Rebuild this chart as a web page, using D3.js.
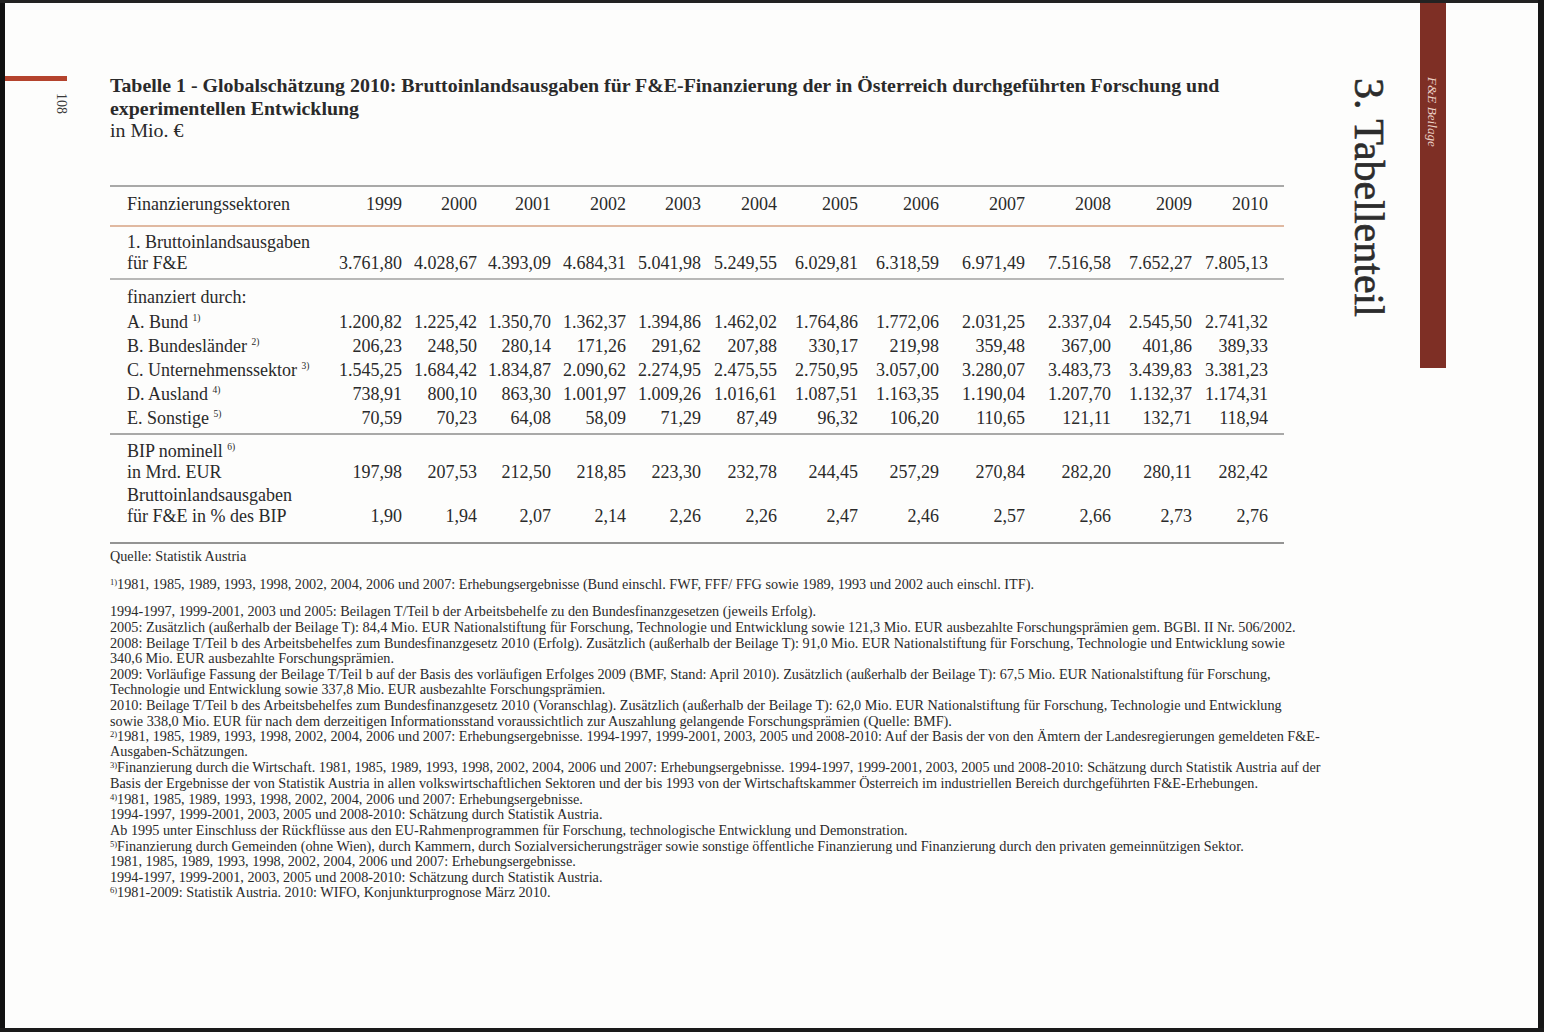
<!DOCTYPE html>
<html><head><meta charset="utf-8">
<script src="https://cdn.jsdelivr.net/npm/d3@7"></script>
<style>html,body{margin:0;padding:0;background:#fff;} svg{display:block}</style>
</head><body>
<svg id="c" width="1544" height="1032"></svg>
<script>
// ---------- DATA ----------
const years = [1999, 2000, 2001, 2002, 2003, 2004, 2005, 2006, 2007, 2008, 2009, 2010];
const gerd        = [3761.80, 4028.67, 4393.09, 4684.31, 5041.98, 5249.55, 6029.81, 6318.59, 6971.49, 7516.58, 7652.27, 7805.13];
const bund        = [1200.82, 1225.42, 1350.70, 1362.37, 1394.86, 1462.02, 1764.86, 1772.06, 2031.25, 2337.04, 2545.50, 2741.32];
const laender     = [206.23, 248.50, 280.14, 171.26, 291.62, 207.88, 330.17, 219.98, 359.48, 367.00, 401.86, 389.33];
const unternehmen = [1545.25, 1684.42, 1834.87, 2090.62, 2274.95, 2475.55, 2750.95, 3057.00, 3280.07, 3483.73, 3439.83, 3381.23];
const ausland     = [738.91, 800.10, 863.30, 1001.97, 1009.26, 1016.61, 1087.51, 1163.35, 1190.04, 1207.70, 1132.37, 1174.31];
const sonstige    = [70.59, 70.23, 64.08, 58.09, 71.29, 87.49, 96.32, 106.20, 110.65, 121.11, 132.71, 118.94];
const bip         = [197.98, 207.53, 212.50, 218.85, 223.30, 232.78, 244.45, 257.29, 270.84, 282.20, 280.11, 282.42];
const quote       = [1.90, 1.94, 2.07, 2.14, 2.26, 2.26, 2.47, 2.46, 2.57, 2.66, 2.73, 2.76];

const titleLines = [
  "Tabelle 1 - Globalschätzung 2010: Bruttoinlandsausgaben für F&E-Finanzierung der in Österreich durchgeführten Forschung und",
  "experimentellen Entwicklung"
];
const unitLabel = "in Mio. €";
const headerLabel = "Finanzierungssektoren";
const source = "Quelle: Statistik Austria";

const footnotes = [
  {sup: "1)", text: "1981, 1985, 1989, 1993, 1998, 2002, 2004, 2006 und 2007: Erhebungsergebnisse (Bund einschl. FWF, FFF/ FFG sowie 1989, 1993 und 2002 auch einschl. ITF)."},
  {sup: "", text: "1994-1997, 1999-2001, 2003 und 2005: Beilagen T/Teil b der Arbeitsbehelfe zu den Bundesfinanzgesetzen (jeweils Erfolg)."},
  {sup: "", text: "2005: Zusätzlich (außerhalb der Beilage T): 84,4 Mio. EUR Nationalstiftung für Forschung, Technologie und Entwicklung sowie 121,3 Mio. EUR ausbezahlte Forschungsprämien gem. BGBl. II Nr. 506/2002."},
  {sup: "", text: "2008: Beilage T/Teil b des Arbeitsbehelfes zum Bundesfinanzgesetz 2010 (Erfolg). Zusätzlich (außerhalb der Beilage T): 91,0 Mio. EUR Nationalstiftung für Forschung, Technologie und Entwicklung sowie"},
  {sup: "", text: "340,6 Mio. EUR ausbezahlte Forschungsprämien."},
  {sup: "", text: "2009: Vorläufige Fassung der Beilage T/Teil b auf der Basis des vorläufigen Erfolges 2009 (BMF, Stand: April 2010). Zusätzlich (außerhalb der Beilage T): 67,5 Mio. EUR Nationalstiftung für Forschung,"},
  {sup: "", text: "Technologie und Entwicklung sowie 337,8 Mio. EUR ausbezahlte Forschungsprämien."},
  {sup: "", text: "2010: Beilage T/Teil b des Arbeitsbehelfes zum Bundesfinanzgesetz 2010 (Voranschlag). Zusätzlich (außerhalb der Beilage T): 62,0 Mio. EUR Nationalstiftung für Forschung, Technologie und Entwicklung"},
  {sup: "", text: "sowie 338,0 Mio. EUR für nach dem derzeitigen Informationsstand voraussichtlich zur Auszahlung gelangende Forschungsprämien (Quelle: BMF)."},
  {sup: "2)", text: "1981, 1985, 1989, 1993, 1998, 2002, 2004, 2006 und 2007: Erhebungsergebnisse. 1994-1997, 1999-2001, 2003, 2005 und 2008-2010: Auf der Basis der von den Ämtern der Landesregierungen gemeldeten F&E-"},
  {sup: "", text: "Ausgaben-Schätzungen."},
  {sup: "3)", text: "Finanzierung durch die Wirtschaft. 1981, 1985, 1989, 1993, 1998, 2002, 2004, 2006 und 2007: Erhebungsergebnisse. 1994-1997, 1999-2001, 2003, 2005 und 2008-2010: Schätzung durch Statistik Austria auf der"},
  {sup: "", text: "Basis der Ergebnisse der von Statistik Austria in allen volkswirtschaftlichen Sektoren und der bis 1993 von der Wirtschaftskammer Österreich im industriellen Bereich durchgeführten F&E-Erhebungen."},
  {sup: "4)", text: "1981, 1985, 1989, 1993, 1998, 2002, 2004, 2006 und 2007: Erhebungsergebnisse."},
  {sup: "", text: "1994-1997, 1999-2001, 2003, 2005 und 2008-2010: Schätzung durch Statistik Austria."},
  {sup: "", text: "Ab 1995 unter Einschluss der Rückflüsse aus den EU-Rahmenprogrammen für Forschung, technologische Entwicklung und Demonstration."},
  {sup: "5)", text: "Finanzierung durch Gemeinden (ohne Wien), durch Kammern, durch Sozialversicherungsträger sowie sonstige öffentliche Finanzierung und Finanzierung durch den privaten gemeinnützigen Sektor."},
  {sup: "", text: "1981, 1985, 1989, 1993, 1998, 2002, 2004, 2006 und 2007: Erhebungsergebnisse."},
  {sup: "", text: "1994-1997, 1999-2001, 2003, 2005 und 2008-2010: Schätzung durch Statistik Austria."},
  {sup: "6)", text: "1981-2009: Statistik Austria. 2010: WIFO, Konjunkturprognose März 2010."}
];

// table rows: label lines, optional superscript, values
const tableRows = [
  {label: ["1. Bruttoinlandsausgaben", "für F&E"], sup: "", values: gerd},
  {label: ["finanziert durch:"], sup: "", values: null},
  {label: ["A. Bund"], sup: "1)", values: bund},
  {label: ["B. Bundesländer"], sup: "2)", values: laender},
  {label: ["C. Unternehmenssektor"], sup: "3)", values: unternehmen},
  {label: ["D. Ausland"], sup: "4)", values: ausland},
  {label: ["E. Sonstige"], sup: "5)", values: sonstige},
  {label: ["BIP nominell", "in Mrd. EUR"], sup: "6)", values: bip},
  {label: ["Bruttoinlandsausgaben", "für F&E in % des BIP"], sup: "", values: quote}
];

// ---------- LAYOUT ----------
const W = 1544, H = 1032;
const serif = "'Liberation Serif', 'DejaVu Serif', serif";
const ink = "#2a2a2a";
const tableLeft = 110, tableRight = 1284, labelX = 127;
const colRightEdges = [402, 477, 551, 626, 701, 777, 858, 939, 1025, 1111, 1192, 1268];
const rowBaselines = [269, 303, 328, 352, 376, 400, 424, 478, 522]; // baseline of last label line
const lineGap = 21.5;
const tableFont = 18;

const x = d3.scaleOrdinal().domain(years).range(colRightEdges);
const de = d3.formatLocale({decimal: ",", thousands: ".", grouping: [3], currency: ["", " €"]});
const fmt = de.format(",.2f");

const svg = d3.select("#c");
svg.append("rect").attr("width", W).attr("height", H).attr("fill", "#fdfdfc");

// page scan border
svg.append("rect").attr("x", 0).attr("y", 0).attr("width", 5).attr("height", H).attr("fill", "#111");
svg.append("rect").attr("x", 0).attr("y", 0).attr("width", W).attr("height", 3).attr("fill", "#222");
svg.append("rect").attr("x", W - 6).attr("y", 0).attr("width", 6).attr("height", H).attr("fill", "#161616");
svg.append("rect").attr("x", 0).attr("y", H - 4).attr("width", W).attr("height", 4).attr("fill", "#1a1a1a");

// left red bar and page number
svg.append("rect").attr("x", 5).attr("y", 76).attr("width", 62).attr("height", 5).attr("fill", "#b4432d");
svg.append("text").attr("transform", "translate(57,93) rotate(90)")
  .attr("font-family", serif).attr("font-size", 14).attr("fill", "#3a3a3a").text("108");

// right vertical bar
svg.append("rect").attr("x", 1420).attr("y", 3).attr("width", 26).attr("height", 365).attr("fill", "#7e2f25");
svg.append("text").attr("transform", "translate(1428,77) rotate(90)")
  .attr("font-family", serif).attr("font-style", "italic").attr("font-size", 13.2)
  .attr("fill", "#ecd2c8").text("F&E Beilage");
svg.append("text").attr("transform", "translate(1355,78) rotate(90)")
  .attr("font-family", serif).attr("font-size", 42).attr("fill", "#2c2c2c")
  .attr("stroke", "#2c2c2c").attr("stroke-width", 0.6).text("3. Tabellenteil");

// title
const tLine1 = svg.append("text").attr("x", tableLeft).attr("y", 92)
  .attr("font-family", serif).attr("font-weight", "bold").attr("font-size", 19).attr("fill", ink)
  .text(titleLines[0]);
const tw = tLine1.node().getComputedTextLength();
const titleSize = 19 * 1110 / tw;
tLine1.attr("font-size", titleSize);
svg.append("text").attr("x", tableLeft).attr("y", 115)
  .attr("font-family", serif).attr("font-weight", "bold").attr("font-size", titleSize).attr("fill", ink)
  .text(titleLines[1]);
svg.append("text").attr("x", tableLeft).attr("y", 137)
  .attr("font-family", serif).attr("font-size", titleSize).attr("fill", ink)
  .text(unitLabel);

// rules
const rules = [
  {y: 186, c: "#8c8c8c", w: 1.6},
  {y: 226, c: "#d6a283", w: 1.6},
  {y: 279, c: "#a0a0a0", w: 1.3},
  {y: 434, c: "#8c8c8c", w: 1.6},
  {y: 543, c: "#707070", w: 1.6}
];
svg.selectAll("line.rule").data(rules).join("line").attr("class", "rule")
  .attr("x1", tableLeft).attr("x2", tableRight).attr("y1", d => d.y).attr("y2", d => d.y)
  .attr("stroke", d => d.c).attr("stroke-width", d => d.w);

// header
const tbl = svg.append("g").attr("font-family", serif).attr("fill", ink).attr("font-size", tableFont);
tbl.append("text").attr("x", labelX).attr("y", 210).text(headerLabel);
tbl.selectAll("text.yr").data(years).join("text").attr("class", "yr")
  .attr("x", d => x(d)).attr("y", 210).attr("text-anchor", "end").text(d => d);

// body rows
tableRows.forEach((row, i) => {
  const base = rowBaselines[i];
  const n = row.label.length;
  row.label.forEach((l, j) => {
    const t = tbl.append("text").attr("x", labelX).attr("y", base - (n - 1 - j) * lineGap)
      .attr("xml:space", "preserve");
    t.append("tspan").text(l + (j === 0 && row.sup ? "\u00a0" : ""));
    if (j === 0 && row.sup) {
      t.append("tspan").attr("font-size", 9.5).attr("dy", -7).text(row.sup);
    }
  });
  if (row.values) {
    tbl.selectAll(null).data(row.values).join("text")
      .attr("x", (d, k) => x(years[k])).attr("y", base).attr("text-anchor", "end")
      .text(d => fmt(d));
  }
});

// source & footnotes
const fn = svg.append("g").attr("font-family", serif).attr("fill", ink);
fn.append("text").attr("x", tableLeft).attr("y", 561).attr("font-size", 14.2).text(source);

const fnBase = 13;
const probe = fn.append("text").attr("font-size", fnBase).text(footnotes[2].text);
const fnSize = fnBase * 1187 / probe.node().getComputedTextLength();
probe.remove();

const fnY = [589, 616, 632, 648, 663, 679, 694, 710, 726, 741, 756, 772, 788, 804, 819, 835, 851, 866, 882, 897];
footnotes.forEach((f, i) => {
  const t = fn.append("text").attr("x", tableLeft).attr("y", fnY[i]).attr("font-size", fnSize);
  if (f.sup) {
    t.append("tspan").attr("font-size", fnSize * 0.6).attr("dy", -4.5).text(f.sup);
    t.append("tspan").attr("dy", 4.5).text(f.text);
  } else {
    t.text(f.text);
  }
});
</script>
</body></html>
